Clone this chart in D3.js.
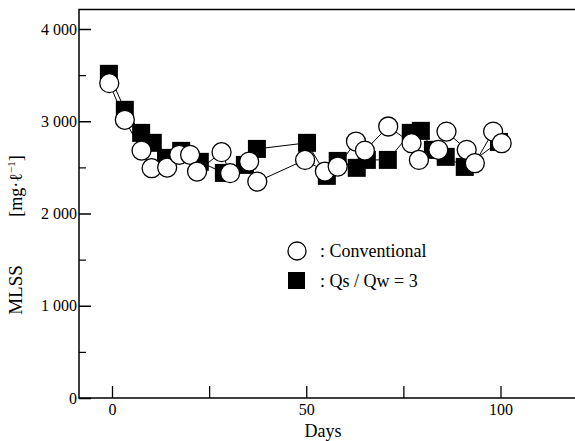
<!DOCTYPE html>
<html>
<head>
<meta charset="utf-8">
<script src="https://cdn.jsdelivr.net/npm/d3@7"></script>
<style>
  html, body { margin: 0; padding: 0; background: #fff; }
  svg { display: block; }
  svg text { font-family: "Liberation Serif", "DejaVu Serif", serif; fill: #000; }
</style>
</head>
<body>
<svg id="chart" width="575" height="441"></svg>
<script>
// ---- data ----
const convDays   = [-0.7, 3.3, 7.6, 10.2, 14.2, 17.3, 20.1, 21.9, 28.2, 30.4, 35.3, 37.4, 49.7, 54.8, 58.1, 62.8, 65.1, 71.1, 77.1, 79.0, 84.0, 86.1, 91.3, 93.4, 98.1, 100.3];
const convMLSS   = [3413, 3015, 2682, 2491, 2498, 2636, 2636, 2455, 2665, 2437, 2563, 2346, 2581, 2455, 2509, 2780, 2682, 2943, 2762, 2581, 2690, 2888, 2690, 2545, 2888, 2762];
const qsDays     = [-0.8, 3.3, 7.5, 10.5, 13.9, 17.8, 22.6, 28.8, 34.2, 37.3, 50.2, 55.3, 58.1, 63.0, 65.6, 71.0, 76.9, 79.5, 82.6, 85.9, 90.8, 99.6];
const qsMLSS     = [3514, 3124, 2874, 2766, 2603, 2679, 2560, 2440, 2527, 2700, 2766, 2408, 2570, 2495, 2581, 2581, 2874, 2896, 2690, 2614, 2505, 2776];
const yMajorTicks = [0, 1000, 2000, 3000, 4000];
const yTickLabels = ["0", "1 000", "2 000", "3 000", "4 000"];
const yMinorTicks = [500, 1500, 2500, 3500];
const xTicks      = [0, 25, 50, 75, 100];
const xTickLabels = ["0", "", "50", "", "100"];
const legendLabels = [": Conventional", ": Qs / Qw = 3"];

// ---- layout ----
const FONT = "'Liberation Serif', 'DejaVu Serif', serif";
const svg = d3.select("#chart");
const mLeft = 79, mRight = 575, mTop = 9.5, mBottom = 398;
const x = d3.scaleLinear().domain([0, 100]).range([112, 500.5]);
const y = d3.scaleLinear().domain([0, 4000]).range([mBottom, mBottom - 4000 * 0.09225]);

// frame: left, top, bottom lines
svg.append("path")
  .attr("d", `M${mRight},${mTop}H${mLeft}V${mBottom}H${mRight}`)
  .attr("fill", "none").attr("stroke", "#000").attr("stroke-width", 1.5);

// y axis ticks (inward)
const yAxis = d3.axisRight(y).tickValues(yMajorTicks).tickSize(12)
  .tickFormat((d, i) => yTickLabels[i]);
const gy = svg.append("g").attr("transform", `translate(${mLeft},0)`).call(yAxis)
  .attr("font-family", FONT).attr("font-size", 16);
gy.select(".domain").remove();
gy.selectAll(".tick line").attr("stroke", "#000").attr("stroke-width", 1.5);
gy.selectAll(".tick text")
  .attr("x", -2).attr("text-anchor", "end").attr("fill", "#000")
  .style("font-size", "16px").style("font-family", FONT);

const yMinor = d3.axisRight(y).tickValues(yMinorTicks).tickSize(7).tickFormat("");
const gym = svg.append("g").attr("transform", `translate(${mLeft},0)`).call(yMinor);
gym.select(".domain").remove();
gym.selectAll(".tick line").attr("stroke", "#000").attr("stroke-width", 1.2);

// x axis ticks (inward, upward)
const xAxis = d3.axisBottom(x).tickValues(xTicks).tickSize(-12)
  .tickFormat((d, i) => xTickLabels[i]);
const gx = svg.append("g").attr("transform", `translate(0,${mBottom})`).call(xAxis)
  .attr("font-family", FONT).attr("font-size", 16);
gx.select(".domain").remove();
gx.selectAll(".tick line").attr("stroke", "#000").attr("stroke-width", 1.3);
gx.selectAll(".tick text")
  .attr("y", 6).attr("dy", "0.71em").attr("fill", "#000")
  .style("font-size", "16px").style("font-family", FONT);

// axis titles
svg.append("text").attr("x", 323).attr("y", 437).attr("text-anchor", "middle")
  .style("font-size", "18px").text("Days");

svg.append("text").attr("transform", "translate(22,290) rotate(-90)")
  .attr("text-anchor", "middle").style("font-size", "19px").text("MLSS");
const unit = svg.append("text").attr("transform", "translate(22,186) rotate(-90)")
  .attr("text-anchor", "middle").style("font-size", "18px");
unit.append("tspan").text("[mg\u00B7\u2113");
unit.append("tspan").attr("dy", -7).style("font-size", "11px").text("\u22121");
unit.append("tspan").attr("dy", 7).text("]");

// series data
const conv = convDays.map((d, i) => ({ d, v: convMLSS[i] }));
const qs = qsDays.map((d, i) => ({ d, v: qsMLSS[i] }));
const line = d3.line().x(p => x(p.d)).y(p => y(p.v));

svg.append("path").datum(qs).attr("d", line)
  .attr("fill", "none").attr("stroke", "#000").attr("stroke-width", 1);
svg.append("path").datum(conv).attr("d", line)
  .attr("fill", "none").attr("stroke", "#000").attr("stroke-width", 1);

const sq = 18;
svg.append("g").selectAll("rect").data(qs).join("rect")
  .attr("x", p => x(p.d) - sq / 2).attr("y", p => y(p.v) - sq / 2)
  .attr("width", sq).attr("height", sq).attr("fill", "#000");

svg.append("g").selectAll("circle").data(conv).join("circle")
  .attr("cx", p => x(p.d)).attr("cy", p => y(p.v)).attr("r", 9.5)
  .attr("fill", "#fff").attr("stroke", "#000").attr("stroke-width", 1.3);

// legend
const lg = svg.append("g");
lg.append("circle").attr("cx", 297).attr("cy", 251).attr("r", 9)
  .attr("fill", "#fff").attr("stroke", "#000").attr("stroke-width", 1.3);
lg.append("rect").attr("x", 288).attr("y", 272).attr("width", 17).attr("height", 17).attr("fill", "#000");
lg.append("text").attr("x", 320).attr("y", 257).style("font-size", "18px").text(legendLabels[0]);
lg.append("text").attr("x", 320).attr("y", 287).style("font-size", "18px").text(legendLabels[1]);
</script>
</body>
</html>
